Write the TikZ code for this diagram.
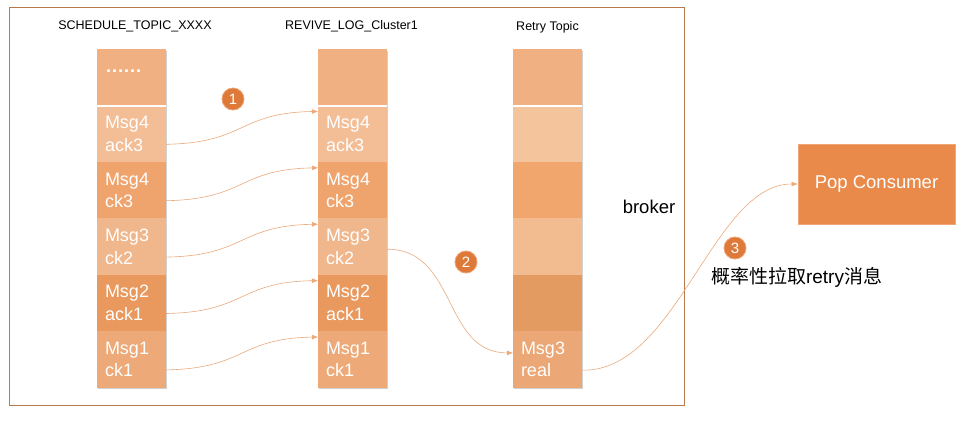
\documentclass[tikz,border=0pt]{standalone}
\usepackage{fontspec}
\setmainfont{Liberation Sans}
\newfontfamily\cjk{Noto Sans CJK SC}
\usetikzlibrary{arrows.meta,shadows}
\definecolor{frameC}{HTML}{B7794D}
\definecolor{segTop}{HTML}{F0B082}
\definecolor{segA}{HTML}{F3BE95}
\definecolor{segB}{HTML}{EFA46E}
\definecolor{segC}{HTML}{F1B78C}
\definecolor{segD}{HTML}{E9985E}
\definecolor{segE}{HTML}{EDAA78}
\definecolor{rA}{HTML}{F4C49C}
\definecolor{rB}{HTML}{F1A66E}
\definecolor{rC}{HTML}{F2BB90}
\definecolor{rD}{HTML}{E49B62}
\definecolor{rE}{HTML}{EBA775}
\definecolor{arrowC}{HTML}{EBAA7B}
\definecolor{numC}{HTML}{DD7A3A}
\definecolor{numEdge}{HTML}{F0A070}
\definecolor{popC}{HTML}{E98A4A}
\definecolor{popEdge}{HTML}{F0A574}
\begin{document}
\begin{tikzpicture}[x=1pt,y=-1pt,
  seg/.style={rectangle, anchor=north, inner xsep=8pt, inner ysep=0pt,
    text width=53pt, minimum height=56.4pt, align=left, text=white,
    font=\fontsize{18}{22.5}\selectfont,
    drop shadow={shadow xshift=1pt, shadow yshift=-1.5pt, opacity=0.3, fill=black!60}},
  title/.style={font=\fontsize{12.5}{14}\selectfont, text=black},
  numc/.style={circle, fill=numC, draw=numEdge, line width=0.8pt, minimum size=22pt,
    inner sep=0pt, text=white, font=\fontsize{15}{15}\selectfont},
  flow/.style={draw=arrowC, line width=0.6pt, -{Triangle[length=6pt,width=4.5pt]}},
  sep/.style={draw=white, line width=1.5pt}]
\useasboundingbox (0,0) rectangle (978,423);
\fill[white] (0,0) rectangle (978,423);
% frame
\draw[frameC, line width=1pt] (9,7) rectangle (684,405);
% titles
\node[title] (t1) at (135,26) {SCHEDULE\_TOPIC\_XXXX};
\node[title] (t2) at (351.5,26) {REVIVE\_LOG\_Cluster1};
\node[title] (t3) at (547.5,27) {Retry Topic};
% column 1
\node[seg, fill=segTop] (c1s0) at (131.5,49) {};
\node[seg, fill=segA] (c1s1) at (131.5,105.4) {Msg4\\ack3};
\node[seg, fill=segB] (c1s2) at (131.5,161.8) {Msg4\\ck3};
\node[seg, fill=segC] (c1s3) at (131.5,218.2) {Msg3\\ck2};
\node[seg, fill=segD] (c1s4) at (131.5,274.6) {Msg2\\ack1};
\node[seg, fill=segE] (c1s5) at (131.5,331) {Msg1\\ck1};
\draw[sep] (c1s0.south west) -- (c1s0.south east);
\node[anchor=base west, text=white, font=\fontsize{18}{18}\selectfont\bfseries, inner sep=0pt] (dots) at (106,72) {.\kern1pt.\kern1pt.\kern1pt.\kern1pt.\kern1pt.};
% column 2
\node[seg, fill=segTop] (c2s0) at (352.5,49) {};
\node[seg, fill=segA] (c2s1) at (352.5,105.4) {Msg4\\ack3};
\node[seg, fill=segB] (c2s2) at (352.5,161.8) {Msg4\\ck3};
\node[seg, fill=segC] (c2s3) at (352.5,218.2) {Msg3\\ck2};
\node[seg, fill=segD] (c2s4) at (352.5,274.6) {Msg2\\ack1};
\node[seg, fill=segE] (c2s5) at (352.5,331) {Msg1\\ck1};
\draw[sep] (c2s0.south west) -- (c2s0.south east);
% column 3
\node[seg, fill=segTop] (c3s0) at (547.5,49) {};
\node[seg, fill=rA] (c3s1) at (547.5,105.4) {};
\node[seg, fill=rB] (c3s2) at (547.5,161.8) {};
\node[seg, fill=rC] (c3s3) at (547.5,218.2) {};
\node[seg, fill=rD] (c3s4) at (547.5,274.6) {};
\node[seg, fill=rE] (c3s5) at (547.5,331) {Msg3\\real};
\draw[sep] (c3s0.south west) -- (c3s0.south east);
% labels
\node[font=\fontsize{18.5}{20}\selectfont] (broker) at (649,207) {broker};
\node[rectangle, fill=popC, draw=popEdge, line width=1pt, minimum width=157pt,
  minimum height=80pt, text=white, font=\fontsize{18.5}{20}\selectfont] (pop) at (876.5,184) {Pop Consumer};
\node[numc] (n1) at (233,99) {1};
\node[numc] (n2) at (466,262) {2};
\node[numc] (n3) at (735,248) {3};
\node[font=\fontsize{19}{20}\selectfont] (prob) at (796.5,277) {{\cjk 概率性拉取}retry{\cjk 消息}};
% arrows step 1
\foreach \i in {1,...,5}{
  \draw[flow] ([yshift=-10.5pt]c1s\i.east) .. controls +(80,-1.5) and +(-80,1.5) .. ([yshift=-6pt]c2s\i.north west);
}
% arrow step 2
\draw[flow] ([yshift=-2.6pt]c2s3.east) .. controls +(70,0) and +(-70,0) .. ([yshift=6.5pt]c3s5.west);
% arrow step 3
\draw[flow] ([yshift=-10.8pt]c3s5.east) .. controls +(95,2) and +(-85,0) .. (pop.west);
\end{tikzpicture}
\end{document}
